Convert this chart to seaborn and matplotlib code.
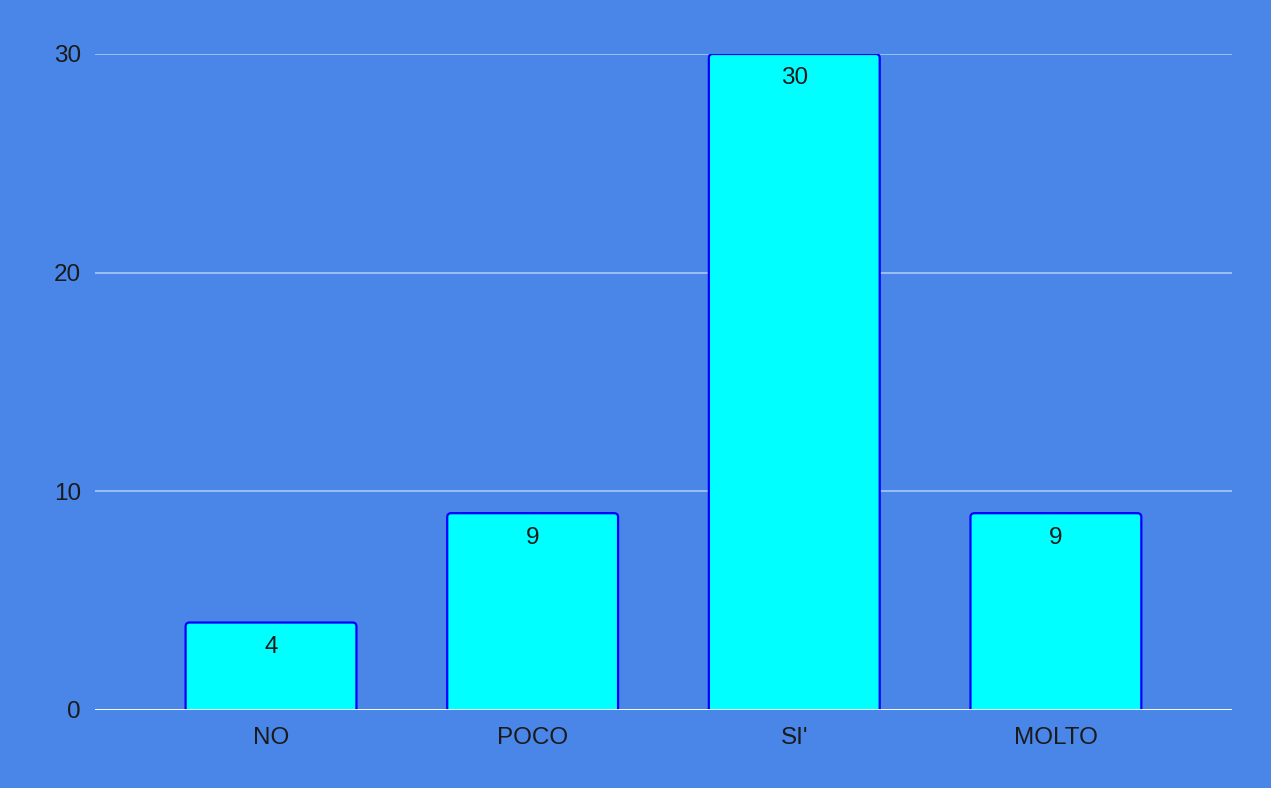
import matplotlib
matplotlib.use("Agg")
import matplotlib.pyplot as plt
import seaborn as sns
import pandas as pd
from matplotlib.patches import FancyBboxPatch

categories = ["NO", "POCO", "SI'", "MOLTO"]
values = [4, 9, 30, 9]

bg = "#4a86e8"

sns.set_theme(style="white")
plt.rcParams["font.family"] = ["Liberation Sans", "DejaVu Sans"]

df = pd.DataFrame({"risposta": categories, "n": values})

fig = plt.figure(figsize=(12.71, 7.88), dpi=100, facecolor=bg)
ax = fig.add_axes([0.0747, 0.099, 0.8946, 0.8325])
ax.set_facecolor(bg)

sns.barplot(data=df, x="risposta", y="n", color="#00ffff", width=0.653,
            saturation=1, ax=ax, zorder=3)

ax.set_xlim(-0.673, 3.673)
ax.set_ylim(0, 30)

# rounded bars: replace the seaborn rectangles
xpp = 4.346 / 1137
ypp = 30 / 656
r = 4 * xpp
for p in list(ax.patches):
    x, w, h = p.get_x(), p.get_width(), p.get_height()
    p.set_visible(False)
    box = FancyBboxPatch((x, -1), w, h + 1,
                         boxstyle=f"round,pad=0,rounding_size={r}",
                         mutation_aspect=ypp / xpp,
                         facecolor="#00ffff", edgecolor="#0000ff",
                         linewidth=1.6, zorder=3)
    ax.add_patch(box)

for i, v in enumerate(values):
    ax.text(i, v - 24.5 * ypp, str(v), ha="center", va="center",
            fontsize=17.5, color="#1a1a1a", zorder=4)

ax.set_yticks([0, 10, 20, 30])
ax.yaxis.grid(True, color="#a4c2f4", linewidth=1.3, zorder=0)
ax.axhline(0, color="white", linewidth=2, zorder=5)

for s in ax.spines.values():
    s.set_visible(False)

ax.tick_params(axis="both", length=0, labelsize=17.5, labelcolor="#1a1a1a")
ax.tick_params(axis="x", pad=12.5)
ax.tick_params(axis="y", pad=10)
ax.set_xlabel("")
ax.set_ylabel("")

fig.savefig("out.png", dpi=100, facecolor=bg)
